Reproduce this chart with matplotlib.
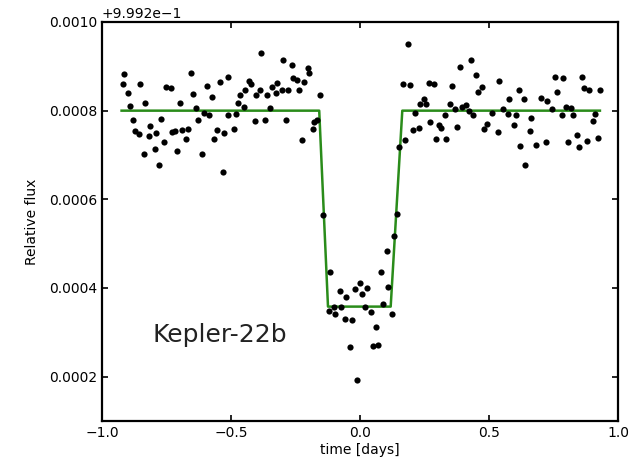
import numpy as np
import matplotlib
matplotlib.use("Agg")
import matplotlib.pyplot as plt
from matplotlib.ticker import ScalarFormatter

# flux values are stored relative to the offset, in units of 1e-4
offset = 0.9992

time_days = [
    -0.920, -0.914, -0.900, -0.893, -0.881, -0.873, -0.858, -0.852, -0.838, -0.832,
    -0.819, -0.813, -0.796, -0.790, -0.778, -0.771, -0.759, -0.752, -0.734, -0.729,
    -0.716, -0.709, -0.698, -0.690, -0.673, -0.667, -0.655, -0.648, -0.634, -0.629,
    -0.612, -0.603, -0.593, -0.585, -0.575, -0.567, -0.553, -0.544, -0.532, -0.526,
    -0.513, -0.510, -0.490, -0.481, -0.472, -0.464, -0.451, -0.445, -0.429, -0.421,
    -0.408, -0.402, -0.389, -0.383, -0.367, -0.360, -0.348, -0.341, -0.324, -0.322,
    -0.302, -0.298, -0.286, -0.279, -0.264, -0.260, -0.244, -0.238, -0.225, -0.217,
    -0.203, -0.199, -0.183, -0.177, -0.168, -0.155, -0.142, -0.115, -0.120, -0.101,
    -0.096, -0.079, -0.074, -0.059, -0.053, -0.040, -0.032, -0.018, -0.012, 0.001,
    0.008, 0.021, 0.028, 0.044, 0.049, 0.063, 0.071, 0.081, 0.089, 0.106,
    0.110, 0.125, 0.132, 0.145, 0.151, 0.173, 0.167, 0.186, 0.193, 0.204,
    0.212, 0.228, 0.234, 0.247, 0.255, 0.266, 0.272, 0.288, 0.296, 0.306,
    0.314, 0.328, 0.334, 0.350, 0.357, 0.369, 0.377, 0.389, 0.395, 0.412,
    0.421, 0.430, 0.438, 0.451, 0.457, 0.473, 0.481, 0.492, 0.512, 0.534,
    0.540, 0.554, 0.574, 0.579, 0.597, 0.603, 0.615, 0.621, 0.636, 0.641,
    0.658, 0.664, 0.683, 0.703, 0.720, 0.726, 0.745, 0.757, 0.764, 0.782,
    0.787, 0.798, 0.806, 0.819, 0.826, 0.841, 0.849, 0.862, 0.867, 0.881,
    0.889, 0.903, 0.911, 0.924, 0.930,
]

flux_e4 = [
    8.60, 8.82, 8.39, 8.11, 7.80, 7.53, 7.48, 8.60, 7.03, 8.18,
    7.42, 7.65, 7.14, 7.50, 6.78, 7.82, 7.29, 8.53, 8.51, 7.52,
    7.55, 7.09, 8.18, 7.57, 7.36, 7.59, 8.86, 8.38, 8.07, 7.80,
    7.02, 7.95, 8.56, 7.90, 8.30, 7.37, 7.57, 8.65, 6.62, 7.50,
    8.76, 7.90, 7.59, 7.93, 8.18, 8.35, 8.08, 8.47, 8.66, 8.59,
    7.76, 8.35, 8.46, 9.30, 7.80, 8.35, 8.05, 8.53, 8.40, 8.63,
    8.46, 9.14, 7.78, 8.47, 9.02, 8.74, 8.69, 8.46, 7.33, 8.65,
    8.97, 8.85, 7.58, 7.75, 7.78, 8.35, 5.64, 4.35, 3.47, 3.58,
    3.41, 3.94, 3.58, 3.30, 3.80, 2.68, 3.28, 3.97, 1.92, 4.12,
    3.87, 3.56, 3.99, 3.46, 2.69, 3.13, 2.72, 4.35, 3.65, 4.84,
    4.02, 3.41, 5.17, 5.66, 7.18, 7.33, 8.60, 9.51, 8.57, 7.57,
    7.95, 7.62, 8.14, 8.27, 8.16, 8.63, 7.75, 8.61, 7.36, 7.67,
    7.61, 7.90, 7.37, 8.14, 8.55, 8.03, 7.63, 8.99, 8.08, 8.12,
    7.99, 9.15, 7.91, 8.80, 8.42, 8.53, 7.59, 7.69, 7.95, 7.52,
    8.67, 8.03, 7.93, 8.26, 7.67, 7.90, 8.47, 7.20, 8.27, 6.77,
    7.54, 7.84, 7.22, 8.29, 7.29, 8.22, 8.03, 8.76, 8.42, 7.90,
    8.74, 8.08, 7.29, 8.05, 7.90, 7.45, 7.17, 8.76, 8.51, 7.32,
    8.47, 7.76, 7.93, 7.39, 8.47,
]

# transit model (trapezoid)
model_time = [-0.924, -0.158, -0.124, 0.119, 0.164, 0.930]
model_flux_e4 = [8.00, 8.00, 3.58, 3.58, 8.00, 8.00]

flux = offset + np.array(flux_e4) * 1e-4
model_flux = offset + np.array(model_flux_e4) * 1e-4

fig = plt.figure(figsize=(6.35, 4.61), dpi=100)
ax = fig.add_axes([0.1606, 0.0868, 0.8126, 0.8655])

ax.scatter(time_days, flux, s=20, color="black", zorder=3, linewidths=0)
ax.plot(model_time, model_flux, color="#2a8c1a", linewidth=1.8, zorder=2)

ax.set_xlim(-1.0, 1.0)
ax.set_ylim(offset + 0.0001, offset + 0.0010)
ax.set_xticks([-1.0, -0.5, 0.0, 0.5, 1.0])
ax.set_yticks(offset + np.array([0.0002, 0.0004, 0.0006, 0.0008, 0.0010]))
ax.yaxis.set_major_formatter(ScalarFormatter(useOffset=offset))

ax.tick_params(direction="in", top=True, right=True, length=4, width=1.2,
               labelsize=10, colors="black")
for sp in ax.spines.values():
    sp.set_linewidth(1.6)
ax.yaxis.get_offset_text().set_fontsize(10)

ax.set_xlabel("time [days]", fontsize=10, labelpad=2)
ax.set_ylabel("Relative flux", fontsize=10, labelpad=7)

ax.text(-0.806, offset + 0.0002785, "Kepler-22b", fontsize=18,
        color="#222222", va="baseline", ha="left")

fig.savefig("out.png", dpi=100)
